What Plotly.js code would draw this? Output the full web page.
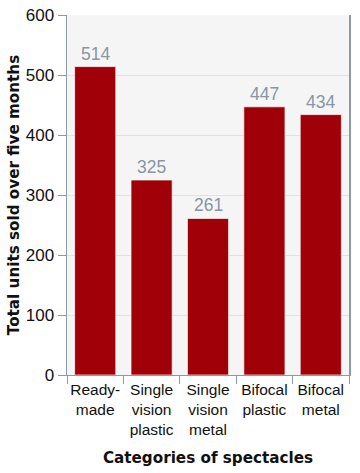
<!DOCTYPE html>
<html>
<head>
<meta charset="utf-8">
<script src="https://cdn.plot.ly/plotly-3.0.1.min.js"></script>
<style>
  html, body { margin: 0; padding: 0; background: #ffffff; }
  #chart { width: 360px; height: 473px; }
</style>
</head>
<body>
<div id="chart"></div>
<script>
const categories = ["Ready-<br>made", "Single<br>vision<br>plastic", "Single<br>vision<br>metal", "Bifocal<br>plastic", "Bifocal<br>metal"];
const unitsSold = [514, 325, 261, 447, 434];
const yTickValues = [0, 100, 200, 300, 400, 500, 600];

const trace = {
  type: "bar",
  x: categories,
  y: unitsSold,
  cliponaxis: false,
  marker: { color: "#a00008", line: { color: "rgba(255,255,255,0.7)", width: 1 } },
  hoverinfo: "none"
};

const valueLabels = categories.map((c, i) => ({
  x: c,
  y: unitsSold[i],
  xref: "x",
  yref: "y",
  text: String(unitsSold[i]),
  showarrow: false,
  yanchor: "bottom",
  yshift: 2,
  borderpad: 0,
  font: { family: "Liberation Sans, Arial, sans-serif", size: 17.5, color: "#8795a5" }
}));

const layout = {
  width: 360,
  height: 473,
  margin: { l: 67, r: 11, t: 15, b: 98 },
  paper_bgcolor: "#ffffff",
  plot_bgcolor: "#f5f5f5",
  bargap: 0.27,
  showlegend: false,
  annotations: valueLabels,
  font: { family: "Liberation Sans, Arial, sans-serif", color: "#111111" },
  xaxis: {
    type: "category",
    tickson: "boundaries",
    ticks: "outside",
    ticklen: 8,
    tickangle: 0,
    tickcolor: "#8a9aa8",
    showline: true,
    linecolor: "#8a9aa8",
    linewidth: 1,
    showgrid: false,
    automargin: false,
    tickfont: { size: 15.5, color: "#111111" },
    title: { text: "Categories of spectacles", font: { family: "DejaVu Sans, sans-serif", size: 15.2, weight: "bold", color: "#111111" }, standoff: 15 }
  },
  yaxis: {
    range: [0, 600],
    tickvals: yTickValues,
    ticks: "outside",
    ticklen: 8,
    tickcolor: "#8a9aa8",
    showline: true,
    mirror: true,
    linecolor: "#8a9aa8",
    linewidth: 1.5,
    showgrid: true,
    gridcolor: "#dde2e6",
    zeroline: false,
    automargin: false,
    tickfont: { size: 17, color: "#111111" },
    title: { text: "Total units sold over five months", font: { family: "DejaVu Sans, sans-serif", size: 15.2, weight: "bold", color: "#111111" }, standoff: 2 }
  }
};

Plotly.newPlot("chart", [trace], layout, { displayModeBar: false, staticPlot: true });
</script>
</body>
</html>
